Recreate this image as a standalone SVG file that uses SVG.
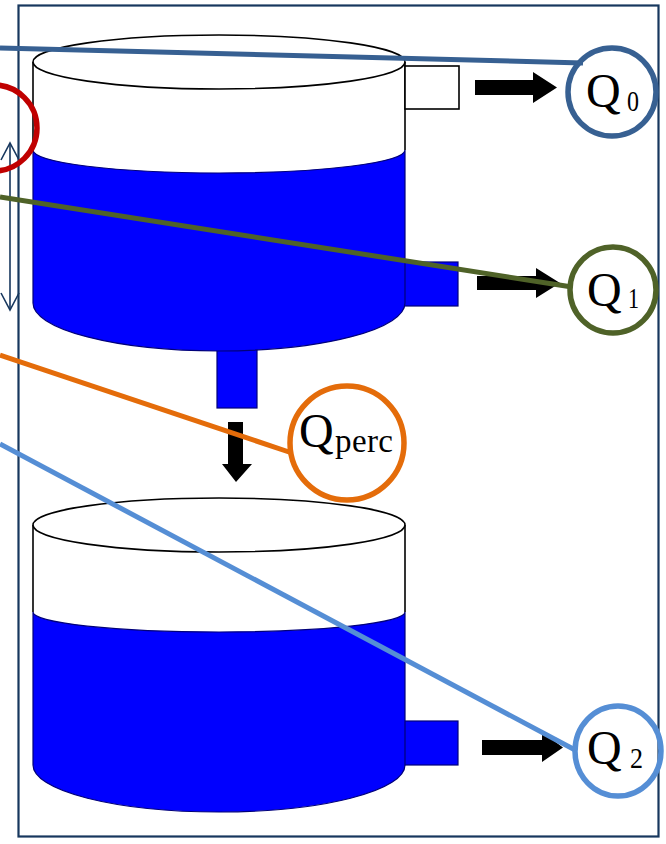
<svg xmlns="http://www.w3.org/2000/svg" width="666" height="844" viewBox="0 0 666 844">
  <defs>
    <style>
      .rim { fill: #ffffff; stroke: #000000; stroke-width: 1.6; }
      .wall { stroke: #000000; stroke-width: 1.6; fill: none; }
      .water { fill: #0000ff; stroke: #00007a; stroke-width: 1.2; }
      .flow { fill: #000000; }
      .conn { fill: none; stroke-width: 5; stroke-linecap: butt; }
      .ring { fill: none; stroke-width: 5.5; }
      .q { font-family: "Liberation Serif", "Times New Roman", serif; fill: #000000; }
      .big { font-size: 48px; }
      .sub { font-size: 30px; }
    </style>
  </defs>

  <!-- outer frame -->
  <rect x="18.5" y="5.5" width="640" height="831" fill="#ffffff" stroke="#17375e" stroke-width="2.2"/>

  <!-- upper reservoir -->
  <g id="upper-tank">
    <rect class="water" x="400" y="262" width="58" height="44"/>
    <rect class="water" x="217" y="330" width="40" height="78"/>
    <path class="water" d="M33,150 L33,303 A186,48 0 0 0 405,303 L405,150 A186,23 0 0 1 33,150 Z"/>
    <line class="wall" x1="33" y1="62" x2="33" y2="150"/>
    <line class="wall" x1="405" y1="62" x2="405" y2="150"/>
    <ellipse class="rim" cx="219" cy="62" rx="186" ry="27"/>
    <rect class="rim" x="405" y="66" width="54" height="43"/>
  </g>

  <!-- lower reservoir -->
  <g id="lower-tank">
    <rect class="water" x="400" y="721" width="58" height="44"/>
    <path class="water" d="M33,612 L33,765 A186,47 0 0 0 405,765 L405,612 A186,20 0 0 1 33,612 Z"/>
    <line class="wall" x1="33" y1="525" x2="33" y2="612"/>
    <line class="wall" x1="405" y1="525" x2="405" y2="612"/>
    <ellipse class="rim" cx="219" cy="525" rx="186" ry="27"/>
  </g>

  <!-- flow arrows -->
  <g id="flow-arrows">
    <path class="flow" d="M475,80 L533,80 L533,72 L557,87.5 L533,103 L533,95 L475,95 Z"/>
    <path class="flow" d="M477,276 L536,276 L536,268 L560,283 L536,298 L536,290 L477,290 Z"/>
    <path class="flow" d="M228,422 L243,422 L243,464 L252,464 L236,482 L222,464 L228,464 Z"/>
    <path class="flow" d="M482,740 L542,740 L542,732 L563,747.5 L542,762 L542,755 L482,755 Z"/>
  </g>

  <!-- storage height marker -->
  <g id="height-marker" fill="none" stroke="#17375e" stroke-width="1.6">
    <line x1="10" y1="144" x2="10" y2="309"/>
    <polyline points="1,160 10,143 19,160"/>
    <polyline points="1,293 10,310 19,293"/>
  </g>

  <!-- connectors -->
  <g id="connectors">
    <line class="conn" stroke="#376092" x1="0" y1="48" x2="583" y2="63"/>
    <line class="conn" stroke="#4f6228" x1="0" y1="197" x2="572" y2="287"/>
    <line class="conn" stroke="#e46c0a" x1="0" y1="355" x2="292" y2="453"/>
    <line class="conn" stroke="#558ed5" x1="0" y1="444" x2="577" y2="751"/>
  </g>

  <!-- labels -->
  <g id="storage-callout">
    <circle class="ring" stroke="#c00000" cx="-6" cy="128" r="43"/>
  </g>

  <g id="q0">
    <circle class="ring" stroke="#376092" cx="612" cy="92" r="44"/>
    <text class="q big" x="586" y="107">Q</text>
    <text class="q sub" x="627" y="111" textLength="12" lengthAdjust="spacingAndGlyphs">0</text>
  </g>

  <g id="q1">
    <circle class="ring" stroke="#4f6228" cx="613" cy="290" r="43"/>
    <text class="q big" x="587" y="306">Q</text>
    <text class="q sub" x="628" y="308" textLength="11" lengthAdjust="spacingAndGlyphs">1</text>
  </g>

  <g id="qperc">
    <circle class="ring" stroke="#e46c0a" cx="347" cy="443" r="57"/>
    <text class="q big" x="299" y="447">Q</text>
    <text class="q" font-size="33" x="335" y="452" textLength="58" lengthAdjust="spacing">perc</text>
  </g>

  <g id="q2">
    <ellipse class="ring" stroke="#558ed5" cx="618" cy="751" rx="43" ry="45"/>
    <text class="q big" x="587" y="764">Q</text>
    <text class="q sub" x="630" y="768" textLength="13" lengthAdjust="spacingAndGlyphs">2</text>
  </g>
</svg>
